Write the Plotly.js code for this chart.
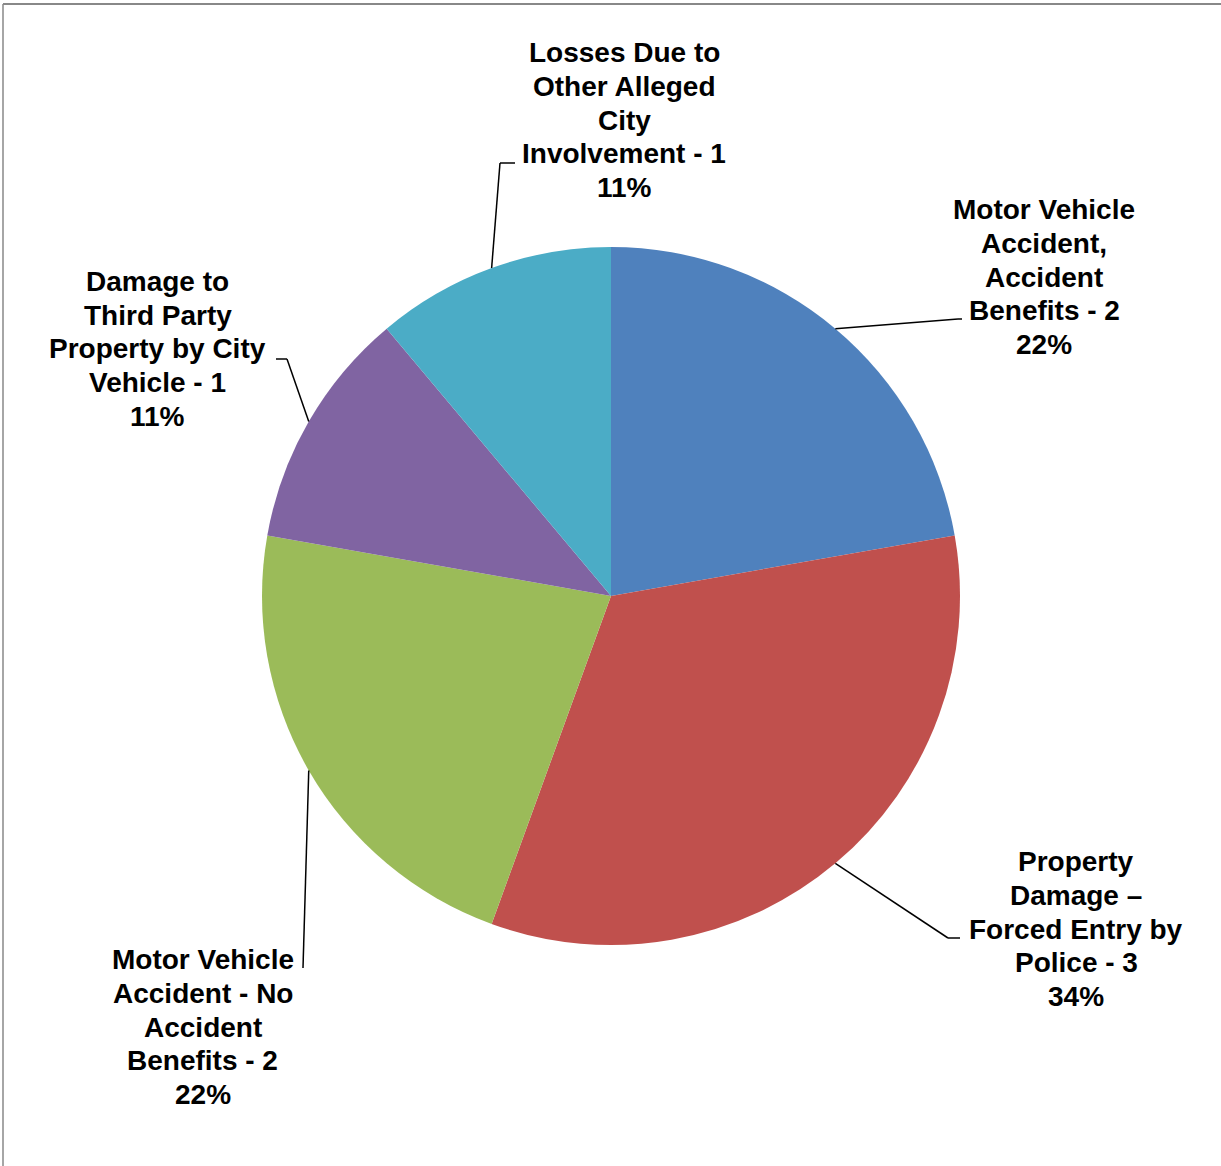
<!DOCTYPE html>
<html>
<head>
<meta charset="utf-8">
<script src="https://cdn.plot.ly/plotly-3.0.1.min.js"></script>
<style>html,body{margin:0;padding:0;background:#fff;}#chart{width:1221px;height:1166px;}</style>
</head>
<body>
<div id="chart"></div>
<script>
// ---- data ----
var categories = [
  "Motor Vehicle<br>Accident,<br>Accident<br>Benefits",
  "Property<br>Damage \u2013<br>Forced Entry by<br>Police",
  "Motor Vehicle<br>Accident - No<br>Accident<br>Benefits",
  "Damage to<br>Third Party<br>Property by City<br>Vehicle",
  "Losses Due to<br>Other Alleged<br>City<br>Involvement"
];
var values = [2, 3, 2, 1, 1];
var pctLabels = ["22%", "34%", "22%", "11%", "11%"];
var colors = ["#4F81BD", "#C0504D", "#9BBB59", "#8064A2", "#4BACC6"];

// ---- layout helpers (pixel geometry) ----
var W = 1221, H = 1166;
var cx = 611, cy = 596, R = 349;
var LINE = 33.8;
function px(x) { return x / W; }
function py(y) { return 1 - y / H; }

// label block centres and leader elbows (layout only)
var labelPos = [
  {x: 1044, y: 277, pts: [[958, 319], [962, 319]]},
  {x: 1076, y: 929, pts: [[948, 938], [960, 938]]},
  {x: 203,  y: 1027, pts: [[303, 968]]},
  {x: 158,  y: 349, pts: [[287, 359], [276, 359]]},
  {x: 624,  y: 120, pts: [[500, 163], [515, 163]]}
];

var total = values.reduce(function(a, b) { return a + b; }, 0);
var annotations = [], shapes = [];
var cum = 0;
values.forEach(function(v, i) {
  var mid = (cum + v / 2) / total * 2 * Math.PI;
  cum += v;
  var ax = cx + R * Math.sin(mid), ay = cy - R * Math.cos(mid);
  var prev = [ax, ay];
  labelPos[i].pts.forEach(function(p) {
    shapes.push({type: 'line', xref: 'paper', yref: 'paper',
      x0: px(prev[0]), y0: py(prev[1]), x1: px(p[0]), y1: py(p[1]),
      line: {color: '#000', width: 1.5}});
    prev = p;
  });
  var lines = (categories[i] + ' - ' + v + '<br>' + pctLabels[i]).split('<br>');
  var n = lines.length;
  lines.forEach(function(s, j) {
    annotations.push({
      xref: 'paper', yref: 'paper',
      x: px(labelPos[i].x), y: py(labelPos[i].y + (j - (n - 1) / 2) * LINE),
      xanchor: 'center', yanchor: 'middle', showarrow: false, align: 'center',
      text: '<b>' + s + '</b>',
      font: {family: 'Arial, Liberation Sans, sans-serif', size: 28, color: '#000'}
    });
  });
});

// frame
shapes.push({type: 'line', xref: 'paper', yref: 'paper', x0: px(3), y0: py(4), x1: 1, y1: py(4), line: {color: '#888', width: 2}});
shapes.push({type: 'line', xref: 'paper', yref: 'paper', x0: px(3), y0: py(4), x1: px(3), y1: 0, line: {color: '#888', width: 1.5}});

var trace = {
  type: 'pie',
  labels: categories,
  values: values,
  sort: false,
  direction: 'clockwise',
  rotation: 0,
  textinfo: 'none',
  hoverinfo: 'none',
  showlegend: false,
  marker: {colors: colors, line: {color: '#ffffff', width: 0}},
  domain: {x: [px(cx - R), px(cx + R)], y: [py(cy + R), py(cy - R)]}
};

var layout = {
  width: W, height: H,
  margin: {l: 0, r: 0, t: 0, b: 0},
  paper_bgcolor: '#fff',
  showlegend: false,
  annotations: annotations,
  shapes: shapes
};

Plotly.newPlot('chart', [trace], layout, {displayModeBar: false, staticPlot: true});
</script>
</body>
</html>
